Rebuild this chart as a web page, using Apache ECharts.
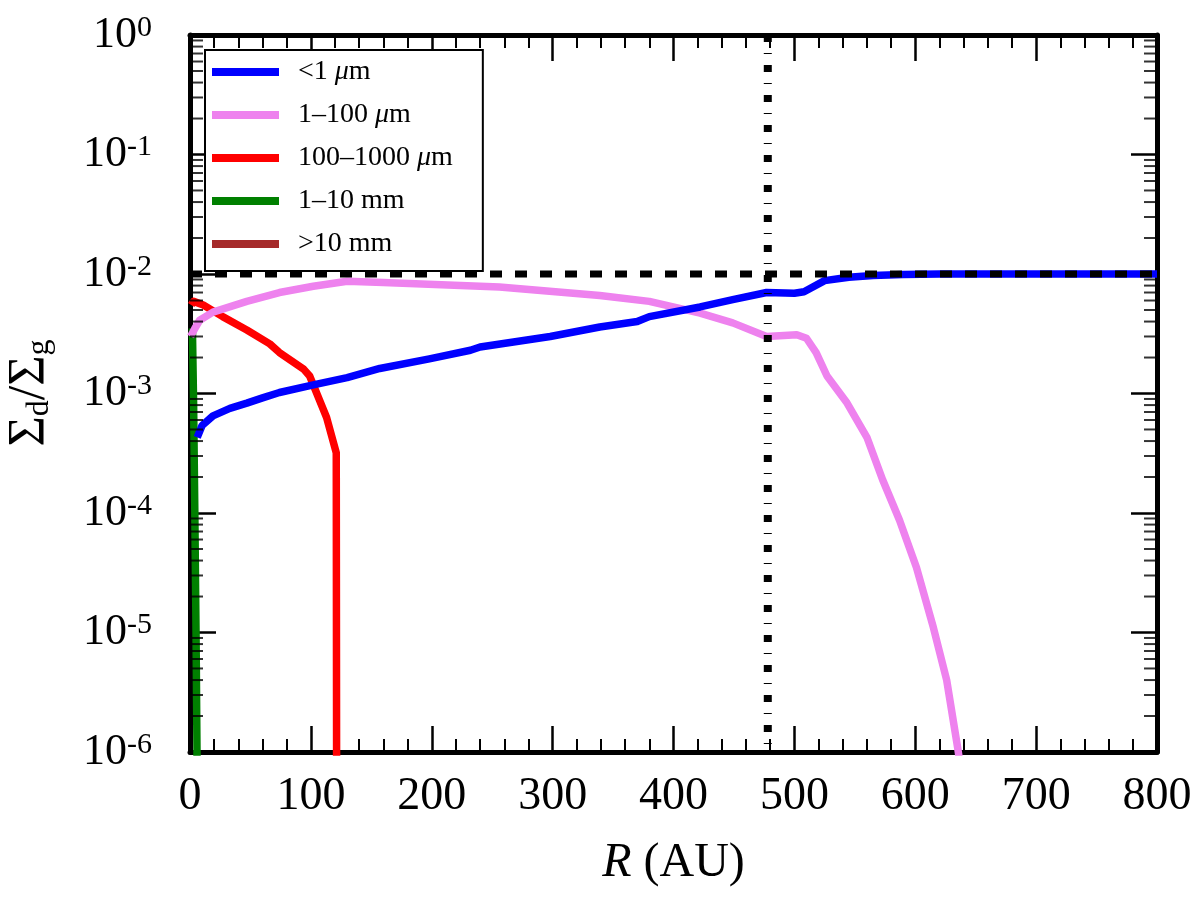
<!DOCTYPE html>
<html>
<head>
<meta charset="utf-8">
<script src="https://cdn.jsdelivr.net/npm/echarts@6/dist/echarts.min.js"></script>
<style>
  html, body { margin: 0; padding: 0; background: #fff; }
  #chart { width: 1200px; height: 900px; }
</style>
</head>
<body>
<div id="chart"></div>
<script>
// radius (AU) and dust-to-gas ratio
const blueR = [6, 10, 19, 33, 47, 60, 74, 102, 130, 157, 198, 232, 240, 298, 339, 370, 380, 422, 449, 477, 500, 508, 525, 545, 565, 590, 620, 800];
const blueV = [4.3e-4, 5.4e-4, 6.5e-4, 7.5e-4, 8.3e-4, 9.2e-4, 1.02e-3, 1.18e-3, 1.36e-3, 1.62e-3, 1.95e-3, 2.3e-3, 2.45e-3, 3.0e-3, 3.6e-3, 4.0e-3, 4.4e-3, 5.3e-3, 6.1e-3, 7.0e-3, 6.9e-3, 7.1e-3, 8.8e-3, 9.4e-3, 9.7e-3, 9.9e-3, 1.0e-2, 1.0e-2];

const pinkR = [0.5, 4, 8, 19, 47, 74, 102, 130, 160, 256, 339, 380, 422, 449, 477, 502, 510, 518, 527, 543, 560, 573, 587, 601, 615, 626, 635, 640];
const pinkV = [3.0e-3, 3.5e-3, 4.1e-3, 4.8e-3, 5.9e-3, 7.0e-3, 7.9e-3, 8.7e-3, 8.5e-3, 7.8e-3, 6.6e-3, 5.9e-3, 4.7e-3, 3.9e-3, 3.0e-3, 3.1e-3, 2.9e-3, 2.2e-3, 1.4e-3, 8.5e-4, 4.3e-4, 1.9e-4, 8.7e-5, 3.5e-5, 1.1e-5, 4e-6, 1.1e-6, 5e-7];

const redR = [1, 3, 11, 27, 47, 66, 74, 94, 99, 113, 121, 121.5];
const redV = [5.5e-3, 5.9e-3, 5.5e-3, 4.4e-3, 3.4e-3, 2.6e-3, 2.2e-3, 1.6e-3, 1.4e-3, 6.3e-4, 3.2e-4, 1e-8];

const greenR = [2, 3, 4, 5, 5.8, 6.2];
const greenV = [3.5e-3, 8e-4, 1e-4, 1e-5, 1e-6, 1e-8];

// >10 mm stays below the plotted range
const brownR = [0, 1.0];
const brownV = [1e-7, 1e-8];

const gasRatio = 0.01;      // dashed horizontal line
const rCut = 478;           // dash-dot vertical line
const rMin = 0, rMax = 800;
const yMin = 1e-6, yMax = 1;

const names = ['<1 μm', '1–100 μm', '100–1000 μm', '1–10 mm', '>10 mm'];
const legendText = ['<1 {i|μ}m', '1–100 {i|μ}m', '100–1000 {i|μ}m', '1–10 mm', '>10 mm'];
const colors = ['#0000ff', '#ee82ee', '#ff0000', '#008000', '#a52a2a'];

const serif = 'Liberation Serif';

// log minor ticks 2..9 x 10^n
const minorVals = [];
for (let e = -6; e < 0; e++) {
  for (let k = 2; k <= 9; k++) minorVals.push(k * Math.pow(10, e));
}

function pairs(xs, ys) { return xs.map((x, i) => [x, ys[i]]); }

function curve(i, xs, ys) {
  return {
    name: names[i],
    type: 'line',
    symbol: 'none',
    color: colors[i],
    lineStyle: { width: 7.5, color: colors[i], join: 'round' },
    data: pairs(xs, ys),
    z: 3
  };
}

function logAxis(pos, label) {
  return {
    type: 'log', logBase: 10, min: yMin, max: yMax, position: pos,
    axisLine: { show: true, onZero: false, lineStyle: { color: '#000', width: 5 } },
    axisTick: { show: true, inside: true, length: 26, lineStyle: { color: '#000', width: 2.5 } },
    axisLabel: label ? {
      show: true, margin: 38,
      formatter: v => '{b|10}{s|' + Math.round(Math.log10(v)) + '}',
      rich: {
        b: { fontFamily: serif, fontSize: 44, lineHeight: 44, color: '#000' },
        s: { fontFamily: serif, fontSize: 30, lineHeight: 16, verticalAlign: 'top', color: '#000' }
      }
    } : { show: false },
    splitLine: { show: false }
  };
}

function linAxis(pos, label) {
  return {
    type: 'value', min: rMin, max: rMax, interval: 100, position: pos,
    axisLine: { show: true, onZero: false, lineStyle: { color: '#000', width: 5 } },
    axisTick: { show: true, inside: true, length: 26, lineStyle: { color: '#000', width: 2.5 } },
    minorTick: { show: true, splitNumber: 5, length: 13, lineStyle: { color: '#000', width: 2 } },
    axisLabel: label ? { show: true, margin: 22, fontFamily: serif, fontSize: 46, color: '#000' } : { show: false },
    splitLine: { show: false },
    name: label ? '{it|R} (AU)' : '',
    nameLocation: 'middle',
    nameGap: 87,
    nameTextStyle: {
      fontFamily: serif, fontSize: 48, color: '#000',
      rich: { it: { fontFamily: serif, fontSize: 48, fontStyle: 'italic', color: '#000' } }
    }
  };
}

// minor ticks of the log axis: thin rect symbols placed through the y scale
function minorTickSeries(r, offset) {
  return {
    type: 'scatter', silent: true, z: 5, clip: false,
    symbol: 'rect', symbolSize: [13, 2], symbolOffset: [offset, 0],
    itemStyle: { color: '#000' },
    data: minorVals.map(v => [r, v])
  };
}

const chart = echarts.init(document.getElementById('chart'), null, { renderer: 'canvas' });

chart.setOption({
  animation: false,
  backgroundColor: '#fff',
  grid: { left: 190, right: 43, top: 35, bottom: 148 },
  xAxis: [linAxis('bottom', true), linAxis('top', false)],
  yAxis: [logAxis('left', true), logAxis('right', false)],
  legend: {
    data: names,
    orient: 'vertical',
    left: 205, top: 50,
    padding: [7, 30, 12, 7],
    itemWidth: 67, itemHeight: 8, itemGap: 13,
    icon: 'rect',
    backgroundColor: '#fff',
    borderColor: '#000', borderWidth: 2,
    formatter: n => legendText[names.indexOf(n)],
    textStyle: {
      fontFamily: serif, fontSize: 28, lineHeight: 30, color: '#000',
      padding: [0, 0, 0, 14],
      rich: { i: { fontFamily: serif, fontSize: 28, fontStyle: 'italic', color: '#000' } }
    },
    selectedMode: false
  },
  graphic: [{
    type: 'text', x: 30, y: 393, rotation: Math.PI / 2,
    style: {
      text: '{m|Σ}{sub|d}{m|/Σ}{sub|g}',
      align: 'center', verticalAlign: 'middle',
      rich: {
        m: { fontFamily: serif, fontSize: 52, lineHeight: 52, fill: '#000' },
        sub: { fontFamily: serif, fontSize: 32, lineHeight: 20, verticalAlign: 'bottom', fill: '#000' }
      }
    }
  }],
  series: [
    curve(4, brownR, brownV),
    curve(3, greenR, greenV),
    curve(2, redR, redV),
    curve(1, pinkR, pinkV),
    curve(0, blueR, blueV),
    {
      type: 'line', symbol: 'none', silent: true, z: 4,
      lineStyle: { color: '#000', width: 7, type: [12, 13], cap: 'butt' },
      data: [[rMin, gasRatio], [rMax, gasRatio]]
    },
    {
      type: 'line', symbol: 'none', silent: true, z: 4,
      lineStyle: { color: '#000', width: 8, type: [7, 11, 1, 11], cap: 'butt' },
      data: [[rCut, yMax], [rCut, yMin]]
    },
    minorTickSeries(rMin, 6.5),
    minorTickSeries(rMax, -6.5)
  ]
});
</script>
</body>
</html>
